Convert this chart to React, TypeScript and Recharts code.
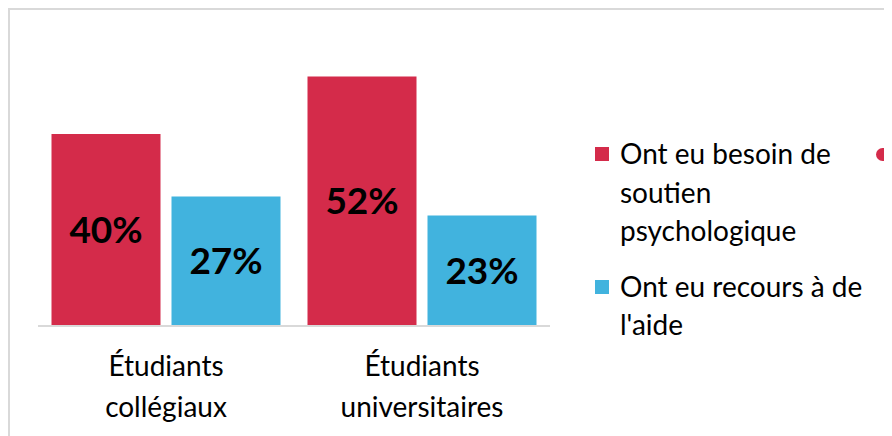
import { BarChart, Bar, XAxis, YAxis, LabelList, Legend } from 'recharts'

// Données (en %)
const categories = ['Étudiants collégiaux', 'Étudiants universitaires']
const besoinSoutien = [40, 52]
const recoursAide = [27, 23]

const seriesNames = ['Ont eu besoin de soutien psychologique', "Ont eu recours à de l'aide"]
const seriesColors = ['#D42B4A', '#41B3DE']

const data = categories.map((category, i) => ({
  category,
  besoin: besoinSoutien[i],
  recours: recoursAide[i],
}))

const FONT = 'Lato, "Noto Sans", sans-serif'

function CategoryTick({ x, y, payload }: { x: number; y: number; payload: { value: string } }) {
  const words = String(payload.value).split(' ')
  return (
    <g transform={`translate(${x},${y})`}>
      {words.map((w, i) => (
        <text
          key={w}
          x={0}
          y={42 + i * 41}
          textAnchor="middle"
          fill="#000"
          fontSize={28}
          fontFamily={FONT}
        >
          {w}
        </text>
      ))}
    </g>
  )
}

function LegendContent({ payload }: { payload?: Array<{ value: string; color: string }> }) {
  const items = payload ?? []
  return (
    <div style={{ position: 'relative', fontFamily: FONT, width: 310, overflow: 'visible' }}>
      {items.map((item, i) => (
        <div
          key={item.value}
          style={{ display: 'flex', alignItems: 'flex-start', marginBottom: i === 0 ? 17 : 0 }}
        >
          <span
            style={{
              display: 'inline-block',
              width: 14,
              height: 14,
              background: item.color,
              marginTop: 13,
              marginRight: 11,
              flex: 'none',
            }}
          />
          <span style={{ fontSize: 28, lineHeight: '38.5px', color: '#000', width: 262 }}>
            {item.value}
          </span>
        </div>
      ))}
      {/* marqueur d'une série coupée par le bord droit */}
      <div
        style={{
          position: 'absolute',
          left: 281,
          top: 14,
          width: 14,
          height: 13,
          borderRadius: 7,
          backgroundColor: seriesColors[0],
        }}
      />
    </div>
  )
}

export default function App() {
  return (
    <div
      style={{
        width: 884,
        height: 428,
        overflow: 'hidden',
        position: 'relative',
        boxSizing: 'border-box',
        borderTop: '2px solid #D9D9D9',
        borderLeft: '2px solid #D9D9D9',
        background: '#fff',
      }}
    >
      <BarChart
        width={882}
        height={426}
        data={data}
        margin={{ top: 28, left: 28, right: 32, bottom: 10 }}
        barCategoryGap={13.5}
        barGap={11}
      >
        <XAxis
          dataKey="category"
          axisLine={{ stroke: '#D9D9D9', strokeWidth: 2 }}
          tickLine={false}
          interval={0}
          height={100}
          tick={CategoryTick}
        />
        <YAxis hide domain={[0, 60]} />
        <Legend
          layout="horizontal"
          verticalAlign="middle"
          align="right"
          wrapperStyle={{ left: 585, top: 124, width: 310, overflow: 'visible' }}
          content={LegendContent}
        />
        <Bar dataKey="besoin" name={seriesNames[0]} fill={seriesColors[0]} isAnimationActive={false}>
          <LabelList
            dataKey="besoin"
            position="center"
            formatter={(v: number) => `${v}%`}
            fill="#000"
            fontSize={37}
            fontWeight={700}
            fontFamily={FONT}
          />
        </Bar>
        <Bar dataKey="recours" name={seriesNames[1]} fill={seriesColors[1]} isAnimationActive={false}>
          <LabelList
            dataKey="recours"
            position="center"
            formatter={(v: number) => `${v}%`}
            fill="#000"
            fontSize={37}
            fontWeight={700}
            fontFamily={FONT}
          />
        </Bar>
      </BarChart>
    </div>
  )
}
